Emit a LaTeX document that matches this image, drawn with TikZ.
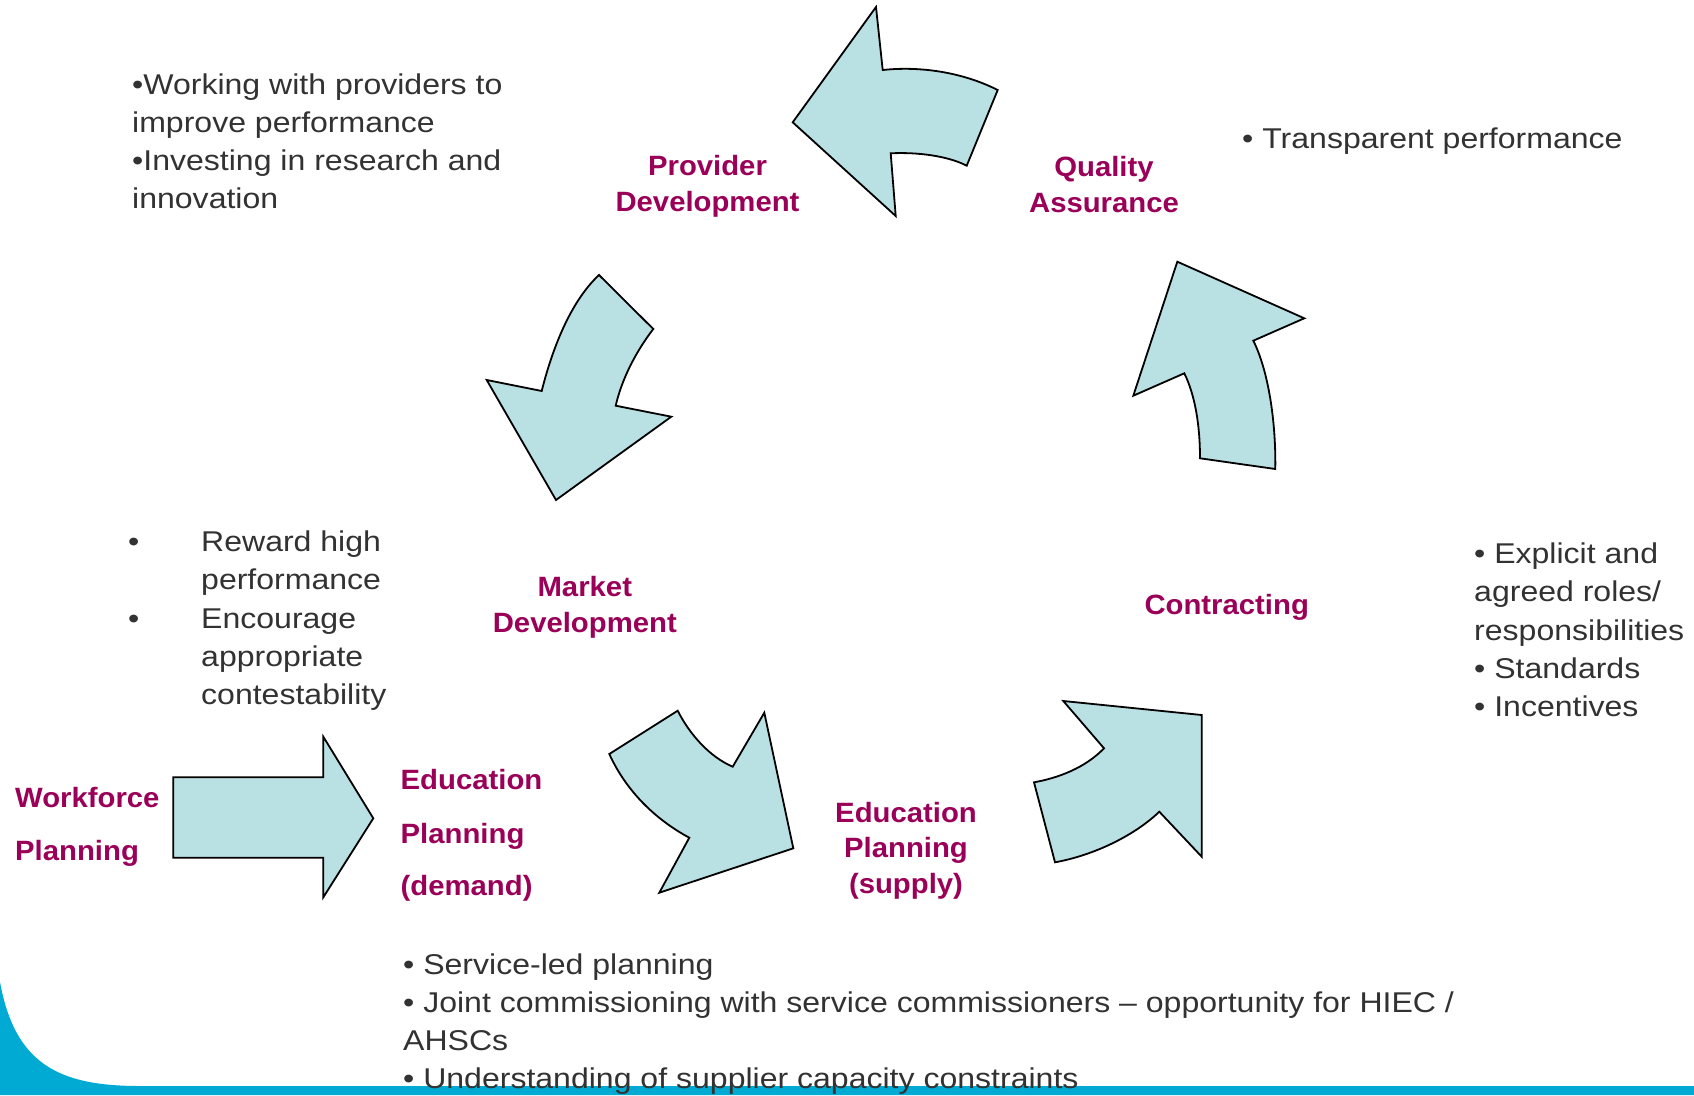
\documentclass[tikz,border=0pt]{standalone}
\usepackage{fontspec}
\setmainfont{Liberation Sans}[FakeStretch=1.12]
\newfontfamily\labfont{Liberation Sans}[FakeStretch=1.05]
\definecolor{arrowfill}{RGB}{185,224,227}
\definecolor{labred}{RGB}{155,0,88}
\definecolor{txtgray}{RGB}{50,50,50}
\definecolor{bandblue}{RGB}{0,170,210}
\newcommand\gsize{\fontsize{28.6}{34}\selectfont}
\newcommand\lsize{\labfont\bfseries\fontsize{27.9}{33}\selectfont}
\tikzset{
  arrowshape/.style={fill=arrowfill, draw=black, line width=1.8pt, line join=miter},
  gt/.style={text=txtgray, font=\gsize, inner sep=0pt, anchor=base west},
  lab/.style={text=labred, font=\lsize, inner sep=0pt, anchor=base},
  labl/.style={text=labred, font=\lsize, inner sep=0pt, anchor=base west}
}
\begin{document}
\begin{tikzpicture}[x=1pt,y=-1pt]
\useasboundingbox (0,0) rectangle (1694,1095);
\fill[white] (0,0) rectangle (1694,1095);

% bottom band
\fill[bandblue] (0,982) .. controls (15,1065) and (60,1086) .. (140,1086) -- (1694,1086) -- (1694,1095) -- (0,1095) -- cycle;

% Provider development arrow (top)
\draw[arrowshape] (876,7) -- (882.7,70) .. controls (920,66) and (962,72) .. (997.7,90) -- (966.7,165.7) .. controls (948,156) and (918,152) .. (890.7,153.3) -- (895.7,216) -- (792.7,122.3) -- cycle;

% Market development arrow (down-left)
\draw[arrowshape] (599,275) -- (653.3,329) .. controls (637,350) and (622,378) .. (615.7,405.7) -- (671.3,416.7) -- (556,500) -- (486.7,380) -- (541.7,391) .. controls (552,350) and (570,302) .. (599,275) -- cycle;

% Quality assurance arrow (up)
\draw[arrowshape] (1177.3,261.7) -- (1304.3,318.3) -- (1253.3,340.7) .. controls (1268,370) and (1276,420) .. (1275.3,469) -- (1200,458.3) .. controls (1200,425) and (1195,395) .. (1184.3,373.3) -- (1133.3,395.7) -- cycle;

% Education demand -> supply arrow
\draw[arrowshape] (677.7,710.7) .. controls (690,735) and (710,757) .. (732.7,766.7) -- (764.3,712.7) -- (793.3,848.3) -- (659.3,892.7) -- (689.3,837.7) .. controls (660,822) and (628,795) .. (609.3,754) -- cycle;

% supply -> contracting arrow
\draw[arrowshape] (1063.3,701) -- (1201.7,715) -- (1201.7,856.7) -- (1159.3,811.7) .. controls (1135,835) and (1095,855) .. (1055,862.3) -- (1034,782.3) .. controls (1058,778) and (1085,768) .. (1104,748.3) -- cycle;

% Workforce -> Education demand straight arrow
\draw[arrowshape] (173.3,777.3) -- (323.3,777.3) -- (323.3,736.7) -- (373.3,818.3) -- (323.3,897.3) -- (323.3,857.7) -- (173.3,857.7) -- cycle;

% Labels
\node[lab] (pd1) at (707.5,175.7) {Provider};
\node[lab] (pd2) at (707.5,211.7) {Development};
\node[lab] (qa1) at (1104,176) {Quality};
\node[lab] (qa2) at (1104,212) {Assurance};
\node[lab] (md1) at (584.8,596.7) {Market};
\node[lab] (md2) at (584.8,632.7) {Development};
\node[lab] (ct1) at (1226.7,614) {Contracting};
\node[labl] (wp1) at (15,807.5) {Workforce};
\node[labl] (wp2) at (15,860) {Planning};
\node[labl] (ed1) at (400.5,789.5) {Education};
\node[labl] (ed2) at (400.5,843) {Planning};
\node[labl] (ed3) at (400.5,895.5) {(demand)};
\node[lab] (es1) at (906,822) {Education};
\node[lab] (es2) at (906,857.5) {Planning};
\node[lab] (es3) at (906,893) {(supply)};

% Grey texts: top left
\node[gt] (tl1) at (132,94.5) {•Working with providers to};
\node[gt] (tl2) at (132,132.5) {improve performance};
\node[gt] (tl3) at (132,170.5) {•Investing in research and};
\node[gt] (tl4) at (132,208.5) {innovation};

% top right
\node[gt] (tr1) at (1242,148.5) {• Transparent performance};

% left middle
\node[gt] (lmb1) at (128,551) {•};
\node[gt] (lmb2) at (128,628) {•};
\node[gt] (lm1) at (201,551) {Reward high};
\node[gt] (lm2) at (201,589) {performance};
\node[gt] (lm3) at (201,628) {Encourage};
\node[gt] (lm4) at (201,666) {appropriate};
\node[gt] (lm5) at (201,704) {contestability};

% right
\node[gt] (rt1) at (1474,563) {• Explicit and};
\node[gt] (rt2) at (1474,601.5) {agreed roles/};
\node[gt] (rt3) at (1474,640) {responsibilities};
\node[gt] (rt4) at (1474,678) {• Standards};
\node[gt] (rt5) at (1474,716.5) {• Incentives};

% bottom
\node[gt] (bt1) at (403,974) {• Service-led planning};
\node[gt] (bt2) at (403,1012.5) {• Joint commissioning with service commissioners – opportunity for HIEC /};
\node[gt] (bt3) at (403,1050) {AHSCs};
\node[gt] (bt4) at (403,1088.3) {• Understanding of supplier capacity constraints};
\end{tikzpicture}
\end{document}
